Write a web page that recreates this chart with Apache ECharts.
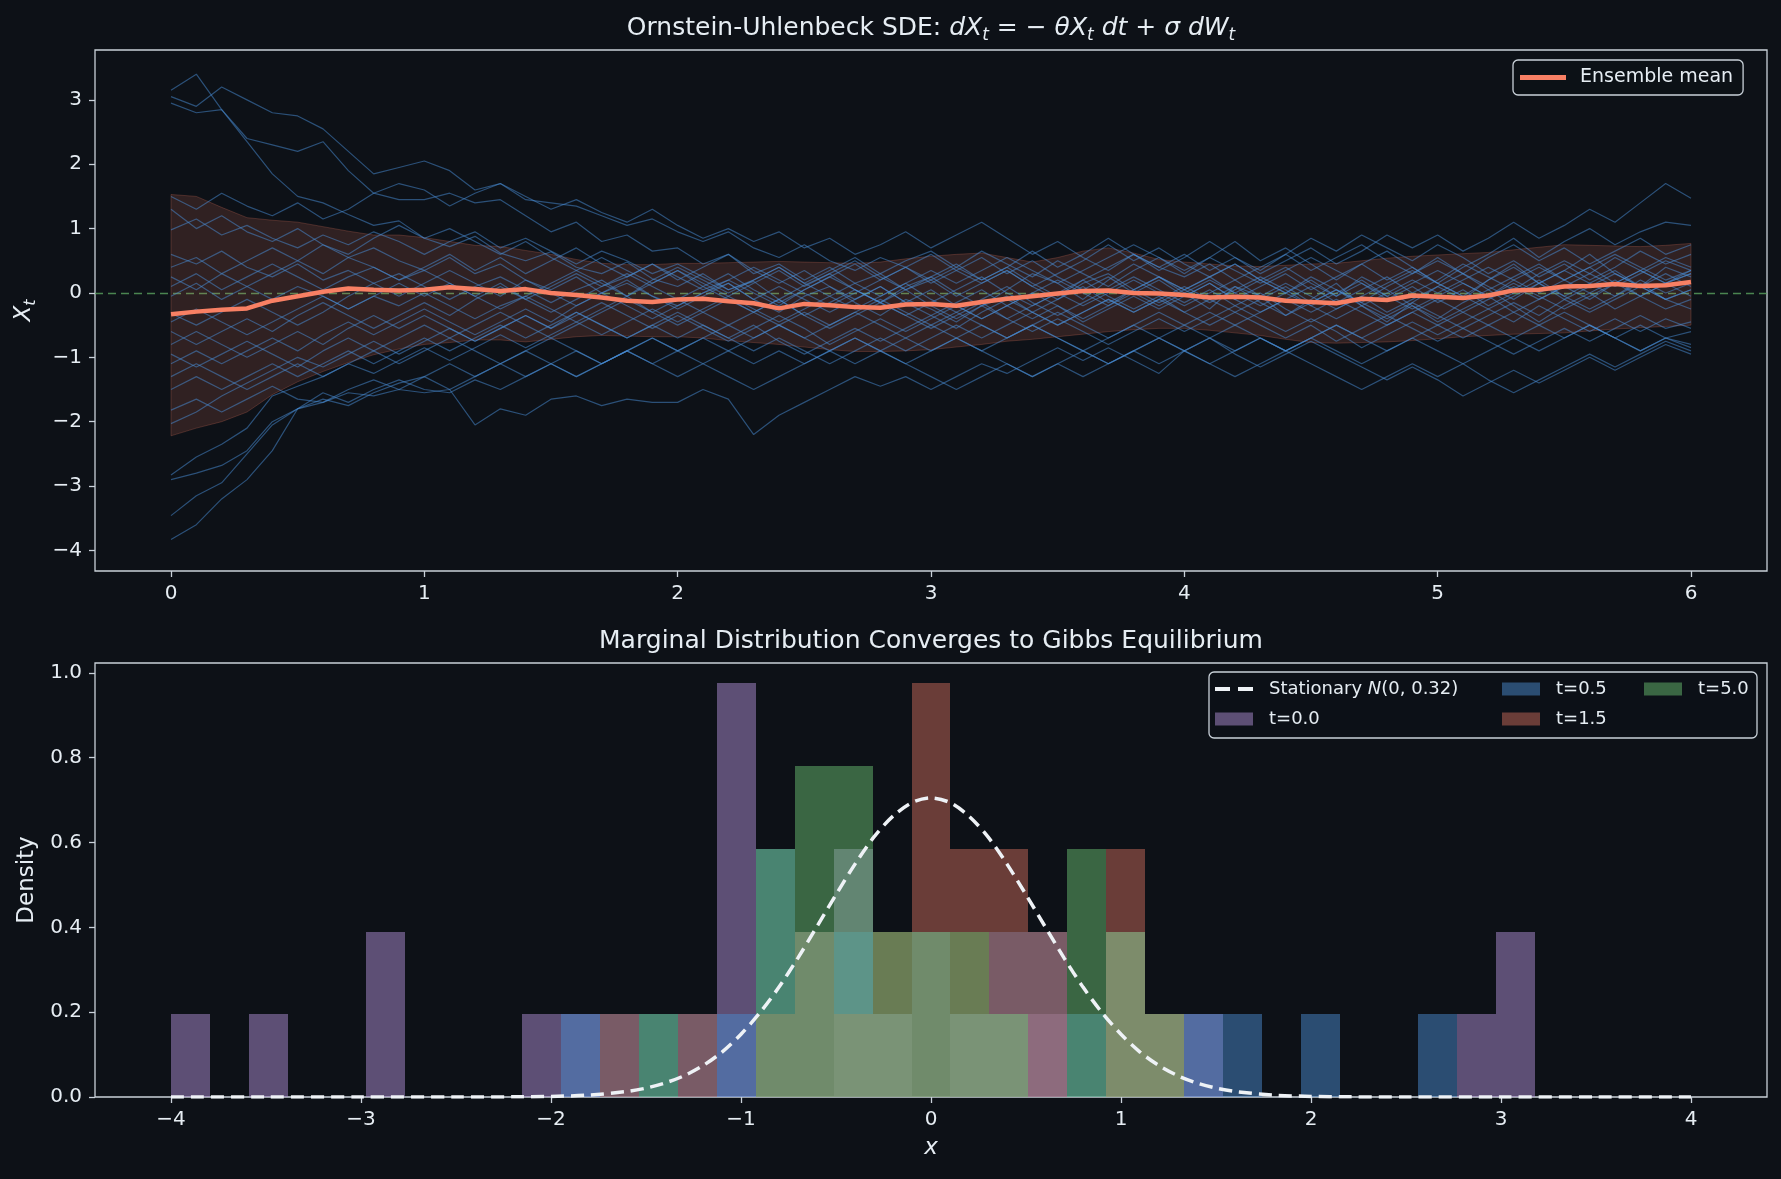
<!DOCTYPE html>
<html>
<head>
<meta charset="utf-8">
<title>Ornstein-Uhlenbeck SDE</title>
<script src="https://cdn.jsdelivr.net/npm/echarts@6.0.0/dist/echarts.min.js"></script>
<style>
  html, body { margin: 0; padding: 0; background: #0d1117; }
  #chart { width: 1781px; height: 1179px; }
</style>
</head>
<body>
<div id="chart"></div>
<script>
// sample grid of the paths: t = 0, 0.1, ..., 6.0
const tGrid = Array.from({ length: 61 }, (_, i) => +(i * 0.1).toFixed(1))

// 25 sample paths (values at each tGrid point)
const paths = [
  [3.15, 3.40, 2.85, 2.35, 1.85, 1.50, 1.40, 1.22, 1.05, 1.12,
   0.85, 0.72, 0.88, 0.62, 0.50, 0.64, 0.40, 0.30, 0.48, 0.22,
   0.10, 0.30, 0.05, 0.18, -0.10, 0.12, 0.30, 0.05, -0.15, 0.10,
   0.25, 0.00, -0.20, 0.05, 0.30, 0.15, -0.10, 0.20, 0.45, 0.25,
   0.00, -0.25, 0.10, -0.05, -0.35, -0.10, 0.15, -0.20, -0.45, -0.15,
   0.10, -0.10, 0.20, 0.45, 0.15, 0.35, 0.60, 0.30, 0.10, 0.40, 0.25],
  [3.05, 2.90, 3.20, 3.00, 2.80, 2.75, 2.55, 2.20, 1.85, 1.95,
   2.05, 1.90, 1.60, 1.70, 1.45, 1.40, 1.35, 1.20, 1.05, 1.15,
   0.95, 0.80, 0.95, 0.70, 0.55, 0.75, 0.50, 0.35, 0.55, 0.40,
   0.20, 0.40, 0.65, 0.45, 0.25, 0.50, 0.30, 0.10, 0.35, 0.55,
   0.30, 0.55, 0.80, 0.50, 0.70, 0.45, 0.20, 0.45, 0.65, 0.40,
   0.15, 0.40, 0.60, 0.85, 0.55, 0.80, 1.00, 0.75, 0.95, 1.10, 1.05],
  [2.95, 2.80, 2.85, 2.40, 2.30, 2.20, 2.35, 1.90, 1.55, 1.45,
   1.45, 1.55, 1.40, 1.45, 1.20, 0.95, 1.10, 0.80, 0.90, 0.65,
   0.70, 0.45, 0.60, 0.30, 0.45, 0.20, 0.40, 0.15, 0.30, 0.05,
   0.20, -0.05, 0.15, 0.35, 0.10, -0.10, 0.15, 0.30, 0.05, -0.15,
   0.05, 0.25, 0.00, 0.20, 0.40, 0.15, -0.05, 0.25, 0.05, -0.20,
   -0.40, -0.15, 0.05, -0.20, -0.45, -0.20, 0.00, -0.25, -0.05, 0.15, -0.05],
  [1.50, 1.30, 1.55, 1.35, 1.20, 1.40, 1.15, 1.30, 1.55, 1.70,
   1.60, 1.35, 1.55, 1.70, 1.50, 1.30, 1.45, 1.25, 1.10, 1.30,
   1.05, 0.85, 1.00, 0.80, 0.95, 0.70, 0.85, 0.60, 0.75, 0.95,
   0.70, 0.90, 1.10, 0.85, 0.60, 0.80, 0.55, 0.35, 0.60, 0.40,
   0.25, 0.45, 0.20, 0.40, 0.60, 0.35, 0.55, 0.75, 0.50, 0.30,
   0.50, 0.30, 0.05, 0.25, 0.45, 0.20, 0.00, 0.20, -0.05, 0.15, 0.30],
  [1.30, 1.00, 1.20, 0.95, 0.80, 1.00, 0.75, 0.55, 0.70, 0.50,
   0.35, 0.55, 0.30, 0.45, 0.20, 0.05, 0.25, 0.00, 0.20, -0.05,
   -0.20, 0.00, 0.15, -0.10, -0.30, -0.05, 0.10, -0.15, -0.35, -0.10,
   -0.25, -0.45, -0.20, -0.05, -0.30, -0.10, 0.10, -0.15, 0.05, 0.25,
   0.05, 0.25, 0.45, 0.20, 0.00, 0.25, 0.05, -0.15, 0.10, 0.30,
   0.55, 0.30, 0.55, 0.75, 0.50, 0.70, 0.45, 0.65, 0.85, 0.60, 0.75],
  [0.98, 1.15, 0.90, 1.05, 0.85, 0.70, 0.90, 0.75, 0.95, 0.80,
   0.60, 0.80, 0.95, 0.70, 0.85, 0.65, 0.45, 0.65, 0.50, 0.30,
   0.45, 0.25, 0.05, 0.20, 0.40, 0.15, 0.35, 0.55, 0.30, 0.50,
   0.65, 0.40, 0.20, 0.40, 0.15, -0.05, 0.20, 0.40, 0.60, 0.35,
   0.55, 0.80, 0.55, 0.35, 0.60, 0.85, 0.65, 0.90, 0.70, 0.50,
   0.75, 0.55, 0.30, 0.50, 0.25, 0.45, 0.20, 0.40, 0.65, 0.45, 0.60],
  [0.60, 0.45, 0.65, 0.40, 0.25, 0.45, 0.20, 0.35, 0.15, 0.30,
   0.10, -0.10, 0.10, 0.25, 0.05, -0.15, 0.05, 0.20, -0.05, 0.15,
   0.35, 0.10, 0.30, 0.05, -0.15, 0.05, 0.25, 0.45, 0.20, 0.40,
   0.15, 0.35, 0.55, 0.30, 0.50, 0.25, 0.05, 0.25, 0.00, 0.20,
   -0.05, 0.15, -0.10, -0.30, -0.10, 0.10, -0.15, 0.05, 0.25, 0.00,
   0.20, 0.45, 0.25, 0.05, 0.30, 0.50, 0.30, 0.55, 0.35, 0.15, 0.35],
  [0.40, 0.55, 0.30, 0.50, 0.70, 0.50, 0.75, 0.60, 0.85, 1.05,
   0.85, 1.00, 0.80, 0.60, 0.80, 0.55, 0.35, 0.55, 0.35, 0.15,
   0.35, 0.15, -0.05, 0.15, 0.35, 0.10, 0.30, 0.50, 0.25, 0.05,
   0.25, 0.45, 0.20, 0.40, 0.65, 0.40, 0.60, 0.85, 0.60, 0.40,
   0.60, 0.35, 0.55, 0.30, 0.50, 0.70, 0.45, 0.65, 0.90, 0.70,
   0.90, 0.65, 0.85, 1.10, 0.85, 1.05, 1.30, 1.10, 1.40, 1.70, 1.47],
  [0.25, 0.05, 0.30, 0.10, -0.10, 0.10, -0.05, -0.25, -0.05, -0.20,
   0.00, -0.20, -0.40, -0.20, -0.05, -0.25, -0.45, -0.25, -0.05, -0.30,
   -0.10, -0.30, -0.50, -0.30, -0.10, -0.35, -0.15, 0.05, -0.15, -0.35,
   -0.15, 0.05, 0.25, 0.00, -0.20, 0.00, 0.20, -0.05, -0.25, -0.05,
   -0.30, -0.10, 0.10, -0.15, -0.35, -0.15, 0.05, -0.20, -0.40, -0.20,
   -0.45, -0.25, -0.05, -0.30, -0.10, 0.10, -0.10, 0.15, -0.05, -0.25, -0.10],
  [0.10, 0.30, 0.05, 0.25, 0.45, 0.25, 0.05, 0.25, 0.40, 0.20,
   0.40, 0.60, 0.35, 0.55, 0.30, 0.50, 0.70, 0.45, 0.25, 0.45,
   0.20, 0.40, 0.60, 0.35, 0.15, 0.35, 0.10, -0.10, 0.10, -0.15,
   -0.35, -0.15, 0.05, -0.20, -0.40, -0.20, -0.45, -0.25, -0.05, -0.25,
   -0.05, 0.15, -0.10, 0.10, 0.30, 0.05, 0.25, 0.45, 0.20, 0.40,
   0.15, -0.05, 0.20, 0.40, 0.15, -0.05, 0.15, 0.35, 0.10, 0.30, 0.10],
  [-0.05, 0.15, -0.10, 0.10, 0.30, 0.50, 0.30, 0.55, 0.40, 0.20,
   0.35, 0.15, -0.05, 0.15, -0.10, 0.10, 0.30, 0.10, 0.25, 0.45,
   0.25, 0.05, 0.20, 0.40, 0.20, 0.00, -0.20, 0.00, 0.20, 0.40,
   0.60, 0.35, 0.15, 0.35, 0.10, 0.30, 0.50, 0.75, 0.50, 0.70,
   0.45, 0.25, 0.45, 0.20, 0.00, 0.20, -0.05, 0.15, -0.10, 0.10,
   -0.15, 0.05, -0.20, 0.00, 0.20, -0.05, -0.25, -0.05, 0.15, -0.10, 0.05],
  [-0.32, -0.50, -0.30, -0.10, -0.30, -0.50, -0.30, -0.05, 0.15, -0.05,
   0.15, 0.35, 0.15, -0.05, 0.20, 0.00, -0.20, 0.00, 0.15, -0.05,
   -0.25, -0.05, 0.15, -0.10, 0.10, -0.10, -0.30, -0.10, 0.10, -0.15,
   0.05, -0.20, -0.40, -0.20, 0.00, 0.20, 0.00, -0.20, 0.05, 0.25,
   0.05, -0.15, 0.05, 0.25, 0.05, -0.20, 0.00, 0.20, -0.05, -0.25,
   -0.05, 0.15, -0.05, 0.20, 0.40, 0.20, 0.40, 0.15, 0.35, 0.55, 0.40],
  [-0.45, -0.25, -0.45, -0.65, -0.45, -0.25, -0.05, -0.25, -0.05, 0.15,
   -0.05, 0.15, -0.05, -0.25, -0.05, 0.15, 0.35, 0.15, -0.05, 0.20,
   0.40, 0.20, 0.00, 0.20, 0.40, 0.15, -0.05, -0.25, -0.05, 0.15,
   -0.10, -0.30, -0.10, 0.10, -0.15, -0.35, -0.15, 0.05, 0.25, 0.05,
   -0.15, 0.05, -0.20, 0.00, -0.25, -0.45, -0.25, -0.05, -0.30, -0.10,
   0.10, 0.30, 0.10, -0.10, 0.15, 0.35, 0.15, -0.05, 0.20, 0.00, 0.15],
  [-0.60, -0.80, -0.60, -0.40, -0.60, -0.35, -0.15, -0.35, -0.55, -0.35,
   -0.15, -0.35, -0.10, 0.10, -0.10, -0.30, -0.10, 0.10, 0.30, 0.10,
   -0.10, 0.10, -0.10, -0.30, -0.10, -0.35, -0.55, -0.35, -0.15, -0.35,
   -0.55, -0.35, -0.15, -0.40, -0.20, 0.00, -0.20, 0.00, 0.20, 0.00,
   -0.20, 0.00, 0.20, -0.05, 0.15, -0.05, -0.25, -0.05, 0.15, 0.35,
   0.15, -0.05, -0.25, -0.05, 0.15, -0.10, 0.10, 0.30, 0.10, -0.10, 0.05],
  [-0.80, -0.60, -0.80, -1.00, -0.80, -0.60, -0.80, -0.55, -0.35, -0.55,
   -0.35, -0.55, -0.75, -0.55, -0.35, -0.55, -0.30, -0.50, -0.70, -0.50,
   -0.30, -0.50, -0.70, -0.50, -0.75, -0.95, -0.75, -0.55, -0.75, -0.55,
   -0.35, -0.55, -0.30, -0.10, -0.30, -0.50, -0.30, -0.10, -0.30, -0.10,
   0.10, -0.10, -0.30, -0.10, 0.10, -0.15, 0.05, -0.15, -0.35, -0.15,
   -0.35, -0.55, -0.35, -0.15, -0.35, -0.10, -0.30, -0.10, 0.10, -0.10, -0.25],
  [-0.95, -1.15, -0.95, -0.75, -0.95, -1.15, -0.90, -0.70, -0.90, -0.70,
   -0.50, -0.70, -0.50, -0.30, -0.50, -0.70, -0.50, -0.30, -0.10, -0.30,
   -0.50, -0.30, -0.10, -0.30, -0.50, -0.70, -0.50, -0.30, -0.50, -0.70,
   -0.90, -0.70, -0.50, -0.70, -0.50, -0.30, -0.50, -0.70, -0.50, -0.30,
   -0.50, -0.70, -0.90, -0.70, -0.90, -0.70, -0.50, -0.70, -0.50, -0.30,
   -0.50, -0.30, -0.50, -0.70, -0.50, -0.30, -0.50, -0.70, -0.90, -0.70, -0.85],
  [-1.10, -0.90, -1.10, -0.90, -0.70, -0.90, -0.65, -0.45, -0.65, -0.45,
   -0.25, -0.45, -0.65, -0.45, -0.25, -0.45, -0.20, 0.00, -0.20, -0.40,
   -0.20, 0.00, 0.20, 0.00, -0.20, 0.05, 0.25, 0.05, -0.15, 0.05,
   -0.20, -0.40, -0.20, -0.40, -0.60, -0.40, -0.60, -0.80, -0.60, -0.40,
   -0.60, -0.40, -0.20, -0.40, -0.60, -0.40, -0.60, -0.85, -0.65, -0.45,
   -0.65, -0.45, -0.25, -0.45, -0.20, -0.40, -0.60, -0.40, -0.60, -0.40, -0.55],
  [-1.30, -1.10, -1.30, -1.50, -1.30, -1.10, -1.30, -1.10, -0.90, -1.10,
   -0.90, -0.70, -0.90, -1.10, -0.90, -0.70, -0.90, -1.10, -0.90, -0.70,
   -0.90, -1.10, -0.90, -0.70, -0.50, -0.70, -0.90, -0.70, -0.90, -1.10,
   -0.90, -0.70, -0.90, -0.70, -0.50, -0.70, -0.90, -1.10, -0.90, -0.70,
   -0.90, -0.70, -0.95, -1.15, -0.95, -0.75, -0.95, -1.15, -1.35, -1.15,
   -1.35, -1.60, -1.40, -1.20, -1.40, -1.20, -1.00, -1.20, -1.00, -0.80, -0.95],
  [-1.50, -1.30, -1.50, -1.30, -1.10, -1.30, -1.10, -0.90, -1.10, -0.90,
   -0.70, -0.90, -0.70, -0.50, -0.70, -0.50, -0.30, -0.50, -0.70, -0.50,
   -0.70, -0.50, -0.70, -0.90, -0.70, -0.90, -1.10, -0.90, -0.70, -0.90,
   -0.70, -0.50, -0.70, -0.50, -0.30, -0.50, -0.30, -0.10, -0.30, -0.10,
   -0.30, -0.50, -0.30, -0.50, -0.70, -0.50, -0.75, -0.55, -0.35, -0.55,
   -0.75, -0.55, -0.75, -0.95, -0.75, -0.55, -0.75, -0.55, -0.35, -0.55, -0.45],
  [-1.82, -1.65, -1.85, -1.65, -1.45, -1.65, -1.70, -1.55, -1.60, -1.50,
   -1.55, -1.50, -2.05, -1.80, -1.90, -1.65, -1.60, -1.75, -1.65, -1.70,
   -1.70, -1.50, -1.65, -2.20, -1.90, -1.70, -1.50, -1.30, -1.45, -1.30,
   -1.50, -1.30, -1.10, -1.25, -1.05, -0.85, -1.05, -0.85, -1.05, -1.25,
   -0.90, -1.10, -0.90, -0.70, -0.90, -0.70, -0.50, -0.70, -0.90, -0.70,
   -0.50, -0.70, -0.50, -0.30, -0.50, -0.70, -0.50, -0.70, -0.50, -0.70, -0.60],
  [-2.03, -1.85, -1.60, -1.40, -1.20, -1.00, -1.15, -0.95, -0.75, -0.95,
   -0.75, -0.55, -0.75, -0.55, -0.35, -0.55, -0.35, -0.15, -0.35, -0.55,
   -0.35, -0.55, -0.75, -0.55, -0.35, -0.55, -0.80, -0.60, -0.40, -0.60,
   -0.40, -0.20, -0.40, -0.20, 0.00, -0.20, -0.40, -0.20, 0.00, -0.20,
   0.00, 0.20, 0.00, -0.20, 0.00, -0.20, -0.40, -0.20, 0.00, 0.20,
   0.00, 0.20, 0.40, 0.20, 0.00, 0.20, 0.40, 0.60, 0.40, 0.20, 0.35],
  [-2.83, -2.55, -2.35, -2.10, -1.60, -1.45, -1.30, -1.10, -1.25, -1.05,
   -0.85, -1.05, -0.85, -0.65, -0.85, -0.65, -0.45, -0.65, -0.45, -0.25,
   -0.45, -0.25, -0.05, -0.25, -0.45, -0.25, -0.05, 0.15, -0.05, 0.15,
   0.35, 0.15, 0.35, 0.55, 0.35, 0.15, 0.35, 0.55, 0.75, 0.55,
   0.35, 0.55, 0.35, 0.15, 0.35, 0.55, 0.35, 0.15, -0.05, 0.15,
   0.35, 0.15, -0.05, 0.15, -0.05, -0.25, -0.05, 0.15, 0.35, 0.15, 0.30],
  [-2.90, -2.80, -2.68, -2.45, -2.00, -1.80, -1.70, -1.50, -1.35, -1.50,
   -1.30, -1.10, -1.30, -1.10, -0.90, -1.10, -1.30, -1.10, -0.90, -1.10,
   -0.90, -0.70, -0.90, -1.10, -0.90, -1.10, -0.90, -0.70, -0.90, -0.70,
   -0.50, -0.70, -0.90, -1.10, -1.30, -1.10, -1.30, -1.10, -0.90, -1.10,
   -0.90, -1.10, -1.30, -1.10, -0.90, -1.10, -1.30, -1.50, -1.30, -1.10,
   -1.30, -1.10, -1.35, -1.55, -1.35, -1.15, -0.95, -1.15, -0.95, -0.75, -0.90],
  [-3.46, -3.15, -2.95, -2.50, -2.05, -1.80, -1.65, -1.75, -1.55, -1.40,
   -1.30, -1.50, -1.30, -1.10, -1.30, -1.10, -0.90, -1.10, -0.90, -0.70,
   -0.90, -0.70, -0.50, -0.70, -0.50, -0.30, -0.50, -0.30, -0.10, -0.30,
   -0.50, -0.30, -0.50, -0.70, -0.50, -0.70, -0.90, -0.70, -0.50, -0.70,
   -0.50, -0.30, -0.50, -0.30, -0.10, -0.30, -0.10, -0.30, -0.50, -0.30,
   -0.10, -0.30, -0.10, 0.10, -0.10, 0.10, 0.30, 0.10, 0.30, 0.50, 0.35],
  [-3.83, -3.60, -3.20, -2.90, -2.45, -1.80, -1.55, -1.70, -1.50, -1.35,
   -1.50, -1.55, -1.35, -1.50, -1.30, -1.10, -1.30, -1.10, -0.90, -1.10,
   -1.30, -1.10, -1.30, -1.50, -1.30, -1.10, -0.90, -1.10, -0.90, -1.10,
   -1.30, -1.50, -1.30, -1.10, -1.30, -1.10, -0.90, -1.10, -0.90, -0.70,
   -0.90, -0.70, -0.50, -0.70, -0.90, -0.70, -0.90, -1.10, -0.90, -0.70,
   -0.90, -1.10, -0.90, -0.70, -0.90, -0.70, -0.50, -0.70, -0.90, -0.70, -0.80]
]

// ensemble mean and mean +/- std band, read at the same tGrid points
const ensembleMean = [
  -0.33, -0.29, -0.26, -0.24, -0.12, -0.05, 0.02, 0.07, 0.05, 0.04,
  0.05, 0.09, 0.06, 0.03, 0.06, 0.00, -0.03, -0.07, -0.12, -0.14,
  -0.10, -0.09, -0.13, -0.16, -0.24, -0.17, -0.19, -0.22, -0.23, -0.18,
  -0.17, -0.20, -0.14, -0.09, -0.05, -0.01, 0.03, 0.04, 0.00, -0.01,
  -0.03, -0.07, -0.06, -0.07, -0.12, -0.14, -0.16, -0.09, -0.11, -0.04,
  -0.06, -0.08, -0.04, 0.04, 0.05, 0.10, 0.11, 0.14, 0.11, 0.12, 0.17
]
const bandUpper = [
  1.53, 1.50, 1.33, 1.17, 1.13, 1.10, 1.03, 0.96, 0.90, 0.90,
  0.86, 0.80, 0.74, 0.72, 0.66, 0.60, 0.52, 0.46, 0.44, 0.44,
  0.46, 0.46, 0.47, 0.48, 0.49, 0.48, 0.47, 0.46, 0.48, 0.53,
  0.57, 0.60, 0.62, 0.55, 0.48, 0.55, 0.65, 0.70, 0.62, 0.52,
  0.48, 0.45, 0.42, 0.41, 0.43, 0.45, 0.46, 0.50, 0.54, 0.57,
  0.59, 0.61, 0.63, 0.67, 0.71, 0.75, 0.74, 0.73, 0.72, 0.74, 0.77
]
const bandLower = [
  -2.22, -2.10, -2.00, -1.85, -1.58, -1.38, -1.22, -1.08, -0.96, -0.87,
  -0.80, -0.77, -0.73, -0.73, -0.76, -0.72, -0.68, -0.66, -0.67, -0.68,
  -0.68, -0.70, -0.74, -0.77, -0.80, -0.84, -0.88, -0.91, -0.91, -0.90,
  -0.88, -0.84, -0.80, -0.75, -0.72, -0.68, -0.64, -0.60, -0.57, -0.55,
  -0.55, -0.58, -0.62, -0.66, -0.72, -0.77, -0.78, -0.77, -0.76, -0.74,
  -0.71, -0.68, -0.66, -0.64, -0.63, -0.62, -0.59, -0.56, -0.54, -0.52, -0.50
]

// histogram: 39 bins between -4 and 4, counts out of 25 paths
const nSamples = 25
const binEdges = Array.from({ length: 40 }, (_, i) => -4 + i * 8 / 39)
const countsT00 = [1,0,1,0,0,2,0,0,0,1, 1,0,0,0,5,0,0,3,1,0, 1,1,1,0,2,1,1,0,0,0, 0,0,0,1,2,0,0,0,0]
const countsT05 = [0,0,0,0,0,0,0,0,0,0, 1,1,1,1,1,3,2,2,1,2, 1,2,2,1,0,0,1,1,0,1, 0,0,1,0,0,0,0,0,0]
const countsT15 = [0,0,0,0,0,0,0,0,0,0, 0,1,0,1,0,1,2,1,2,5, 3,3,2,0,3,1,0,0,0,0, 0,0,0,0,0,0,0,0,0]
const countsT50 = [0,0,0,0,0,0,0,0,0,0, 0,0,1,0,0,3,4,4,2,2, 2,1,0,3,2,1,0,0,0,0, 0,0,0,0,0,0,0,0,0]

// stationary density curve
const statX = [-4, -3.5, -3, -2.5, -2.2, -2, -1.8, -1.6, -1.5, -1.4, -1.3, -1.2, -1.1, -1.0, -0.9, -0.8, -0.7, -0.6, -0.5, -0.4, -0.3, -0.2, -0.1, 0,
  0.1, 0.2, 0.3, 0.4, 0.5, 0.6, 0.7, 0.8, 0.9, 1.0, 1.1, 1.2, 1.3, 1.4, 1.5, 1.6, 1.8, 2, 2.2, 2.5, 3, 3.5, 4]
const statY = [0, 0, 0, 0, 0.0004, 0.0014, 0.0045, 0.013, 0.021, 0.033, 0.050, 0.074, 0.106, 0.148, 0.199, 0.259, 0.328, 0.402, 0.477, 0.549, 0.613, 0.662, 0.694, 0.705,
  0.694, 0.662, 0.613, 0.549, 0.477, 0.402, 0.328, 0.259, 0.199, 0.148, 0.106, 0.074, 0.050, 0.033, 0.021, 0.013, 0.0045, 0.0014, 0.0004, 0, 0, 0, 0]

const fg = '#e6edf3'
const spine = '#c9d1d9'
const font = 'DejaVu Sans'
const statName = 'Stationary N(0, 0.32)'

const minus = v => String(v).replace('-', '\u2212')

function axisStyle (ticks, fmt) {
  return {
    axisLine: { show: false, onZero: false },
    axisTick: { show: true, customValues: ticks, length: 6, lineStyle: { color: spine, width: 1.3 } },
    axisLabel: { customValues: ticks, color: fg, fontSize: 20, fontFamily: font, margin: 13, formatter: fmt },
    splitLine: { show: false }
  }
}

function histSeries (name, counts, color) {
  let binW = 8 / 39
  let data = []
  counts.forEach((c, i) => {
    if (c > 0) data.push([binEdges[i], binEdges[i + 1], c / (nSamples * binW)])
  })
  return {
    name: name,
    type: 'custom',
    xAxisIndex: 1,
    yAxisIndex: 1,
    silent: true,
    itemStyle: { color: color },
    encode: { x: [0, 1], y: 2 },
    renderItem: (params, api) => {
      let p0 = api.coord([api.value(0), api.value(2)])
      let p1 = api.coord([api.value(1), 0])
      // snap to whole pixels so neighbouring bars meet without seams
      let x0 = Math.round(p0[0]), x1 = Math.round(p1[0])
      let y0 = Math.round(p0[1]), y1 = Math.round(p1[1])
      return {
        type: 'rect',
        shape: { x: x0, y: y0, width: x1 - x0, height: y1 - y0 },
        style: { fill: color }
      }
    },
    data: data
  }
}

let pathSeries = paths.map((p, k) => ({
  name: 'path' + (k + 1),
  type: 'line',
  xAxisIndex: 0,
  yAxisIndex: 0,
  symbol: 'none',
  silent: true,
  z: 2,
  lineStyle: { color: '#4a90d9', width: 1.2, opacity: 0.5 },
  data: tGrid.map((t, i) => [t, p[i]])
}))

let myChart = echarts.init(document.getElementById('chart'))
myChart.setOption({
  backgroundColor: '#0d1117',
  animation: false,
  textStyle: { fontFamily: font },
  grid: [
    { left: 95, top: 50, width: 1672, height: 521, show: true, borderColor: spine, borderWidth: 1.3 },
    { left: 95, top: 663, width: 1672, height: 434, show: true, borderColor: spine, borderWidth: 1.3 }
  ],
  xAxis: [
    Object.assign({ type: 'value', gridIndex: 0, min: -0.3, max: 6.3 }, axisStyle([0, 1, 2, 3, 4, 5, 6], minus)),
    Object.assign({
      type: 'value', gridIndex: 1, min: -4.4, max: 4.4,
      name: 'x', nameLocation: 'middle', nameGap: 40,
      nameTextStyle: { color: fg, fontSize: 23, fontStyle: 'italic', fontFamily: font }
    }, axisStyle([-4, -3, -2, -1, 0, 1, 2, 3, 4], minus))
  ],
  yAxis: [
    Object.assign({
      type: 'value', gridIndex: 0, min: -4.32, max: 3.775,
      name: '{i|X}{s|t}', nameLocation: 'middle', nameGap: 56, nameRotate: 90,
      nameTextStyle: {
        color: fg,
        rich: {
          i: { fontSize: 23, fontStyle: 'italic', fontFamily: font, color: fg, lineHeight: 30 },
          s: { fontSize: 16, fontStyle: 'italic', fontFamily: font, color: fg, lineHeight: 14, verticalAlign: 'bottom' }
        }
      }
    }, axisStyle([-4, -3, -2, -1, 0, 1, 2, 3], minus)),
    Object.assign({
      type: 'value', gridIndex: 1, min: 0, max: 1.023,
      name: 'Density', nameLocation: 'middle', nameGap: 56, nameRotate: 90,
      nameTextStyle: { color: fg, fontSize: 23, fontFamily: font }
    }, axisStyle([0, 0.2, 0.4, 0.6, 0.8, 1.0], v => v.toFixed(1)))
  ],
  legend: [
    {
      data: [{ name: 'Ensemble mean', icon: 'path://M0,0h46v5h-46z' }],
      left: 1513, top: 60,
      itemWidth: 46, itemHeight: 14,
      padding: [8, 10, 8, 7],
      backgroundColor: 'rgba(13,17,23,0.8)',
      borderColor: spine, borderWidth: 1.3, borderRadius: 5,
      textStyle: { color: fg, fontSize: 19, fontFamily: font, padding: [0, 0, 0, 9] }
    },
    {
      data: [
        { name: statName, icon: 'path://M0,0h15v4h-15zM23,0h15v4h-15z' },
        { name: 't=0.0', icon: 'rect' }
      ],
      orient: 'vertical', left: 1215, top: 679,
      itemWidth: 38, itemHeight: 13, itemGap: 10, padding: 0,
      formatter: name => name === statName ? '{n|Stationary }{i|N}{n|(0, 0.32)}' : name,
      textStyle: {
        color: fg, fontSize: 18, lineHeight: 20, fontFamily: font, padding: [0, 0, 0, 11],
        rich: {
          n: { color: fg, fontSize: 18, fontFamily: font },
          i: { color: fg, fontSize: 18, fontFamily: font, fontStyle: 'italic' }
        }
      }
    },
    {
      data: [{ name: 't=0.5', icon: 'rect' }, { name: 't=1.5', icon: 'rect' }],
      orient: 'vertical', left: 1502, top: 679,
      itemWidth: 38, itemHeight: 13, itemGap: 10, padding: 0,
      textStyle: { color: fg, fontSize: 18, lineHeight: 20, fontFamily: font, padding: [0, 0, 0, 11] }
    },
    {
      data: [{ name: 't=5.0', icon: 'rect' }],
      orient: 'vertical', left: 1644, top: 679,
      itemWidth: 38, itemHeight: 13, itemGap: 10, padding: 0,
      textStyle: { color: fg, fontSize: 18, lineHeight: 20, fontFamily: font, padding: [0, 0, 0, 11] }
    }
  ],
  graphic: [
    {
      type: 'text', x: 931, y: 28, z: 10,
      style: {
        text: '{n|Ornstein-Uhlenbeck SDE: }{i|dX}{s|t}{n| = \u2212 }{i|\u03b8X}{s|t}{i| dt}{n| + }{i|\u03c3 dW}{s|t}',
        align: 'center', verticalAlign: 'middle',
        rich: {
          n: { fill: fg, fontSize: 25, fontFamily: font, lineHeight: 32 },
          i: { fill: fg, fontSize: 25, fontFamily: font, fontStyle: 'italic', lineHeight: 32 },
          s: { fill: fg, fontSize: 17, fontFamily: font, fontStyle: 'italic', lineHeight: 16, verticalAlign: 'bottom' }
        }
      }
    },
    {
      type: 'text', x: 931, y: 641, z: 10,
      style: {
        text: 'Marginal Distribution Converges to Gibbs Equilibrium',
        align: 'center', verticalAlign: 'middle',
        fill: fg, fontSize: 25, fontFamily: font
      }
    },
    {
      type: 'rect', z: 3,
      shape: { x: 1209, y: 672, width: 548, height: 66, r: 5 },
      style: { fill: 'rgba(13,17,23,0.85)', stroke: spine, lineWidth: 1.3 }
    }
  ],
  series: [
    {
      name: 'band',
      type: 'custom',
      xAxisIndex: 0,
      yAxisIndex: 0,
      silent: true,
      z: 1,
      data: [[0, 0]],
      renderItem: (params, api) => {
        let pts = tGrid.map((t, i) => api.coord([t, bandUpper[i]]))
        for (let i = tGrid.length - 1; i >= 0; i--) pts.push(api.coord([tGrid[i], bandLower[i]]))
        return {
          type: 'polygon',
          shape: { points: pts },
          style: { fill: 'rgba(250,128,100,0.15)', stroke: 'rgba(250,128,100,0.22)', lineWidth: 1 }
        }
      }
    },
    ...pathSeries,
    {
      name: 'Ensemble mean',
      type: 'line',
      xAxisIndex: 0,
      yAxisIndex: 0,
      symbol: 'none',
      z: 5,
      lineStyle: { color: '#f88064', width: 4.5 },
      itemStyle: { color: '#f88064' },
      data: tGrid.map((t, i) => [t, ensembleMean[i]]),
      markLine: {
        silent: true,
        symbol: ['none', 'none'],
        label: { show: false },
        lineStyle: { color: '#5aa25f', type: [8, 5], width: 1.3, opacity: 0.8 },
        data: [{ yAxis: 0 }],
        z: 1
      }
    },
    histSeries('t=0.0', countsT00, 'rgba(173,142,211,0.5)'),
    histSeries('t=0.5', countsT05, 'rgba(73,138,205,0.5)'),
    histSeries('t=1.5', countsT15, 'rgba(199,106,89,0.5)'),
    histSeries('t=5.0', countsT50, 'rgba(103,188,111,0.5)'),
    {
      name: statName,
      type: 'line',
      xAxisIndex: 1,
      yAxisIndex: 1,
      symbol: 'none',
      smooth: 0.3,
      z: 6,
      lineStyle: { color: '#eef2f6', width: 3.5, type: [13, 7] },
      itemStyle: { color: '#eef2f6' },
      data: statX.map((x, i) => [x, statY[i]])
    }
  ]
})
</script>
</body>
</html>
